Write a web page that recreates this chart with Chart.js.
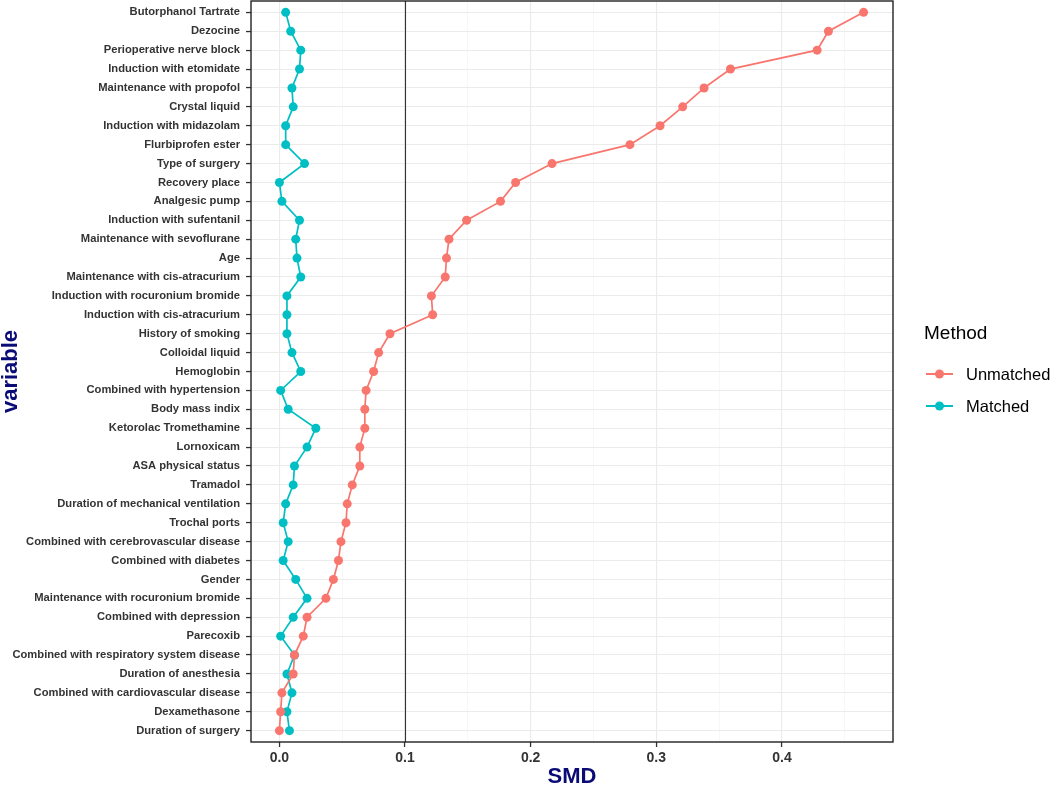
<!DOCTYPE html>
<html>
<head>
<meta charset="utf-8">
<script src="https://cdn.jsdelivr.net/npm/chart.js@4.4.0/dist/chart.umd.min.js"></script>
<style>
  html, body { margin: 0; padding: 0; background: #fff; }
  #wrap { position: relative; width: 1053px; height: 788px; }
  #legend { position: absolute; left: 924px; top: 322px; font-family: "Liberation Sans", Arial, sans-serif; color: #000; }
  #legend .title { font-size: 19px; line-height: 22px; margin-bottom: 14px; }
  #legend .item { display: flex; align-items: center; height: 32px; font-size: 16.5px; }
  #legend svg { margin-right: 12px; }
</style>
</head>
<body>
<div id="wrap">
  <canvas id="smd_chart" width="1053" height="788"></canvas>
  <div id="legend">
    <div class="title">Method</div>
    <div class="item"><svg width="30" height="12"><line x1="2" y1="6" x2="29" y2="6" stroke="#F8766D" stroke-width="2"/><circle cx="15.5" cy="6" r="4.5" fill="#F8766D"/></svg>Unmatched</div>
    <div class="item"><svg width="30" height="12"><line x1="2" y1="6" x2="29" y2="6" stroke="#00BFC4" stroke-width="2"/><circle cx="15.5" cy="6" r="4.5" fill="#00BFC4"/></svg>Matched</div>
  </div>
</div>
<script>
const variables = [
  "Butorphanol Tartrate", "Dezocine", "Perioperative nerve block", "Induction with etomidate",
  "Maintenance with propofol", "Crystal liquid", "Induction with midazolam", "Flurbiprofen ester",
  "Type of surgery", "Recovery place", "Analgesic pump", "Induction with sufentanil",
  "Maintenance with sevoflurane", "Age", "Maintenance with cis-atracurium",
  "Induction with rocuronium bromide", "Induction with cis-atracurium", "History of smoking",
  "Colloidal liquid", "Hemoglobin", "Combined with hypertension", "Body mass indix",
  "Ketorolac Tromethamine", "Lornoxicam", "ASA physical status", "Tramadol",
  "Duration of mechanical ventilation", "Trochal ports", "Combined with cerebrovascular disease",
  "Combined with diabetes", "Gender", "Maintenance with rocuronium bromide",
  "Combined with depression", "Parecoxib", "Combined with respiratory system disease",
  "Duration of anesthesia", "Combined with cardiovascular disease", "Dexamethasone",
  "Duration of surgery"
];

const unmatched = [
  0.465, 0.437, 0.428, 0.359, 0.338, 0.321, 0.303, 0.279,
  0.217, 0.188, 0.176, 0.149, 0.135, 0.133, 0.132, 0.121,
  0.122, 0.088, 0.079, 0.075, 0.069, 0.068, 0.068, 0.064,
  0.064, 0.058, 0.054, 0.053, 0.049, 0.047, 0.043, 0.037,
  0.022, 0.019, 0.012, 0.011, 0.002, 0.001, 0.000
];

const matched = [
  0.005, 0.009, 0.017, 0.016, 0.010, 0.011, 0.005, 0.005,
  0.020, 0.000, 0.002, 0.016, 0.013, 0.014, 0.017, 0.006,
  0.006, 0.006, 0.010, 0.017, 0.001, 0.007, 0.029, 0.022,
  0.012, 0.011, 0.005, 0.003, 0.007, 0.003, 0.013, 0.022,
  0.011, 0.001, 0.012, 0.006, 0.010, 0.006, 0.008
];

const xMajorTicks = [0, 0.1, 0.2, 0.3, 0.4];
const xMinorTicks = [0.05, 0.15, 0.25, 0.35, 0.45];
const refLine = 0.1;

const red = "#F8766D";
const teal = "#00BFC4";
const navy = "#0b0b78";

function isMajor(v) {
  return xMajorTicks.some(m => Math.abs(m - v) < 1e-9);
}

function noPadding(scale) {
  scale.paddingTop = 0;
  scale.paddingBottom = 0;
  scale.paddingLeft = 0;
  scale.paddingRight = 0;
}

const panelPlugin = {
  id: "panel",
  beforeDatasetsDraw(chart) {
    const ctx = chart.ctx;
    const area = chart.chartArea;
    const xs = chart.scales.x;
    const px = Math.round(xs.getPixelForValue(refLine)) + 0.5;
    ctx.save();
    ctx.strokeStyle = "#333";
    ctx.lineWidth = 1.1;
    ctx.beginPath();
    ctx.moveTo(px, area.top);
    ctx.lineTo(px, area.bottom);
    ctx.stroke();
    ctx.restore();
  },
  afterDraw(chart) {
    const ctx = chart.ctx;
    const area = chart.chartArea;
    ctx.save();
    ctx.strokeStyle = "#222";
    ctx.lineWidth = 1.4;
    ctx.strokeRect(area.left, area.top, area.right - area.left, area.bottom - area.top);
    ctx.restore();
  }
};

new Chart(document.getElementById("smd_chart").getContext("2d"), {
  type: "line",
  data: {
    datasets: [
      {
        label: "Unmatched",
        data: unmatched.map((v, i) => ({ x: v, y: i })),
        borderColor: red,
        backgroundColor: red,
        pointBackgroundColor: red,
        pointBorderWidth: 0,
        pointRadius: 4.5,
        borderWidth: 1.7,
        fill: false,
        tension: 0,
      },
      {
        label: "Matched",
        data: matched.map((v, i) => ({ x: v, y: i })),
        borderColor: teal,
        backgroundColor: teal,
        pointBackgroundColor: teal,
        pointBorderWidth: 0,
        pointRadius: 4.5,
        borderWidth: 1.7,
        fill: false,
        tension: 0,
      },
    ],
  },
  options: {
    responsive: false,
    animation: false,
    devicePixelRatio: 1,
    layout: { autoPadding: false, padding: { top: 1, right: 160, left: 0, bottom: 0 } },
    plugins: {
      legend: { display: false },
      tooltip: { enabled: false },
    },
    scales: {
      x: {
        type: "linear",
        min: -0.0226,
        max: 0.4884,
        afterBuildTicks(scale) {
          scale.ticks = xMajorTicks.concat(xMinorTicks).sort((a, b) => a - b).map(v => ({ value: v }));
        },
        afterFit(scale) { scale.height = 46; noPadding(scale); },
        ticks: {
          autoSkip: false,
          maxRotation: 0,
          padding: 3,
          color: "#333",
          font: { family: "'Liberation Sans', Arial, sans-serif", size: 14, weight: "bold" },
          callback: (v) => (isMajor(v) ? v.toFixed(1) : ""),
        },
        grid: {
          color: (c) => (c.tick && isMajor(c.tick.value) ? "#ebebeb" : "#f4f4f4"),
          lineWidth: (c) => (c.tick && isMajor(c.tick.value) ? 1.1 : 0.7),
          tickColor: (c) => (c.tick && isMajor(c.tick.value) ? "#333" : "rgba(0,0,0,0)"),
          tickWidth: 1.3,
          tickLength: 5,
        },
        border: { display: false },
        title: {
          display: true,
          text: "SMD",
          color: navy,
          padding: 0,
          font: { family: "'Liberation Sans', Arial, sans-serif", size: 22, weight: "bold", lineHeight: 1 },
        },
      },
      y: {
        type: "linear",
        reverse: true,
        min: -0.6,
        max: variables.length - 0.4,
        afterBuildTicks(scale) {
          scale.ticks = variables.map((_, i) => ({ value: i }));
        },
        afterFit(scale) { scale.width = 251; noPadding(scale); },
        ticks: {
          autoSkip: false,
          padding: 6,
          color: "#333",
          font: { family: "'Liberation Sans', Arial, sans-serif", size: 11.2, weight: "bold" },
          callback: (v) => variables[v],
        },
        grid: {
          color: "#ebebeb",
          lineWidth: 1.1,
          tickColor: "#333",
          tickWidth: 1.3,
          tickLength: 5,
        },
        border: { display: false },
        title: {
          display: true,
          text: "variable",
          color: navy,
          padding: 0,
          font: { family: "'Liberation Sans', Arial, sans-serif", size: 22, weight: "bold", lineHeight: 1 },
        },
      },
    },
  },
  plugins: [panelPlugin],
});
</script>
</body>
</html>
